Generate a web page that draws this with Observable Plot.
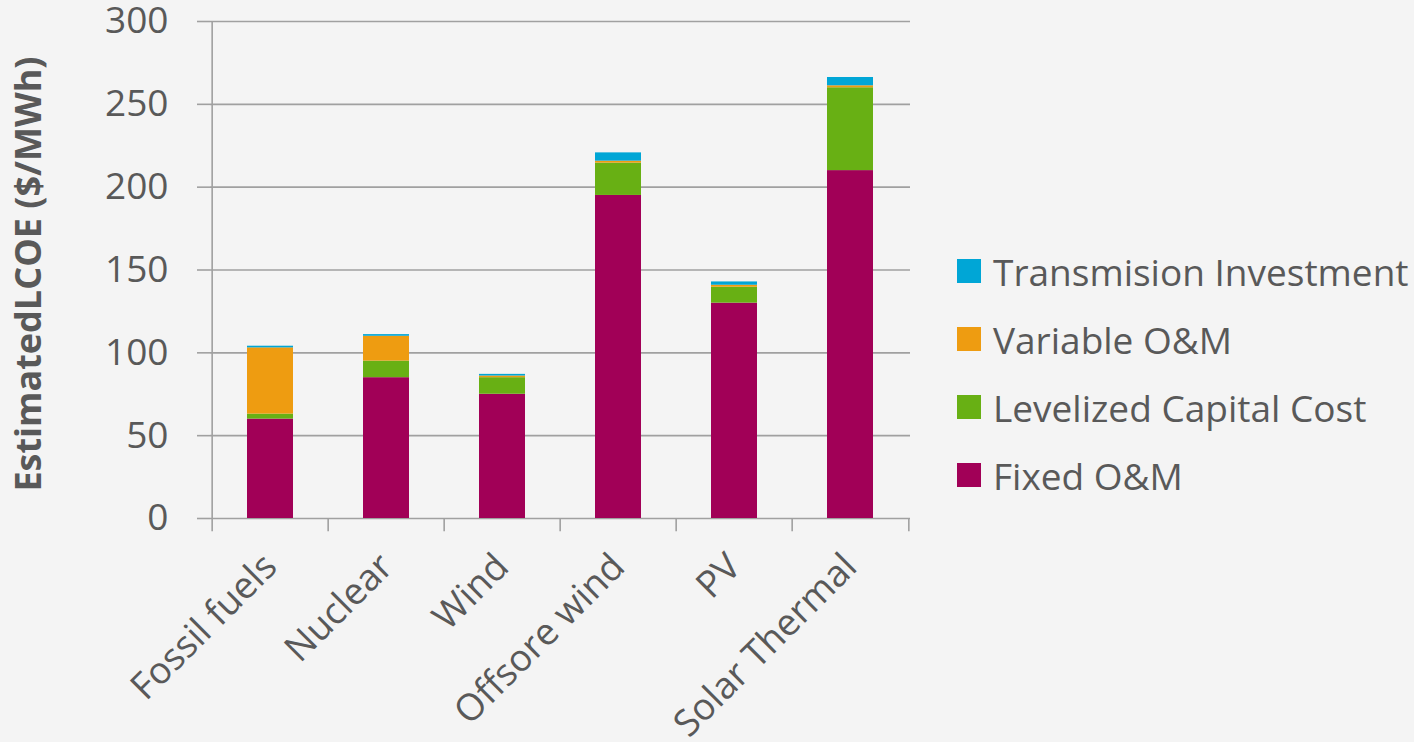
<!DOCTYPE html>
<html>
<head>
<meta charset="utf-8">
<script src="https://cdn.jsdelivr.net/npm/d3@7"></script>
<script src="https://cdn.jsdelivr.net/npm/@observablehq/plot@0.6"></script>
<style>
  html, body { margin: 0; padding: 0; background: #f4f4f4; }
  #wrap { position: relative; width: 1414px; height: 742px; font-family: "Open Sans", sans-serif; color: #595959; }
  #legend { position: absolute; left: 957px; top: 237px; }
  .item { display: flex; align-items: center; height: 68px; font-size: 37px; white-space: nowrap; }
  .sw { width: 24px; height: 24px; margin-right: 12px; flex: none; }
</style>
</head>
<body>
<div id="wrap"></div>
<script>
const categories = ["Fossil fuels", "Nuclear", "Wind", "Offsore wind", "PV", "Solar Thermal"];
const seriesNames = ["Fixed O&M", "Levelized Capital Cost", "Variable O&M", "Transmision Investment"];
const seriesColors = ["#a10057", "#68b014", "#ee9c11", "#00a6d6"];
const fixedOM = [60, 85, 75, 195, 130, 210];
const capitalCost = [3, 10, 10, 19.5, 9.6, 50];
const variableOM = [40, 15, 1, 1.2, 1.2, 1.2];
const transmission = [1, 1, 1, 5, 2, 5];
const yTicks = [0, 50, 100, 150, 200, 250, 300];
const yLabel = "EstimatedLCOE ($/MWh)";

const seriesValues = [fixedOM, capitalCost, variableOM, transmission];
const data = [];
seriesNames.forEach((s, si) => categories.forEach((c, ci) => data.push({category: c, series: s, value: seriesValues[si][ci]})));

const W = 1414, H = 742;
const mL = 210, mR = 504, mT = 21, mB = 224;
const step = (W - mL - mR) / categories.length;
const gray = "#a0a0a0";

const chart = Plot.plot({
  width: W, height: H,
  marginLeft: mL, marginRight: mR, marginTop: mT, marginBottom: mB,
  style: {background: "transparent", fontFamily: "Open Sans, sans-serif", color: "#595959", overflow: "visible"},
  x: {domain: categories, paddingInner: 0.6, paddingOuter: 0.3, label: null},
  y: {domain: [0, 300], label: null},
  color: {domain: seriesNames, range: seriesColors},
  marks: [
    Plot.ruleY(yTicks, {y: d => d, stroke: gray, strokeWidth: 1.6}),
    Plot.barY(data, Plot.stackY({order: seriesNames}, {x: "category", y: "value", fill: "series"})),
    // left axis line (and first bottom tick)
    Plot.ruleX([categories[0]], {x: d => d, dx: -step / 2, y1: () => -8, y2: () => 300, stroke: gray, strokeWidth: 1.6}),
    // category boundary ticks
    Plot.ruleX(categories.slice(1), {x: d => d, dx: -step / 2, y1: () => -8, y2: () => 0, stroke: gray, strokeWidth: 1.6}),
    Plot.ruleX([categories[categories.length - 1]], {x: d => d, dx: step / 2, y1: () => -8, y2: () => 0, stroke: gray, strokeWidth: 1.6}),
    Plot.axisY({ticks: yTicks, tickSize: 13, tickPadding: 29, fontSize: 37, label: null, fill: "#595959", stroke: gray, strokeWidth: 1.6}),
    Plot.axisX({tickSize: 0, tickRotate: -45, tickPadding: 42, fontSize: 37, label: null, fill: "#595959"}),
    Plot.text([yLabel], {frameAnchor: "left", textAnchor: "middle", rotate: -90, dx: -181, dy: 4, text: d => d, fontSize: 36, fontWeight: "bold", fill: "#595959"})
  ]
});

document.getElementById("wrap").appendChild(chart);

const legend = document.createElement("div");
legend.id = "legend";
for (let i = seriesNames.length - 1; i >= 0; i--) {
  const item = document.createElement("div");
  item.className = "item";
  const sw = document.createElement("span");
  sw.className = "sw";
  sw.style.background = seriesColors[i];
  const t = document.createElement("span");
  t.textContent = seriesNames[i];
  item.appendChild(sw);
  item.appendChild(t);
  legend.appendChild(item);
}
document.getElementById("wrap").appendChild(legend);
</script>
</body>
</html>
